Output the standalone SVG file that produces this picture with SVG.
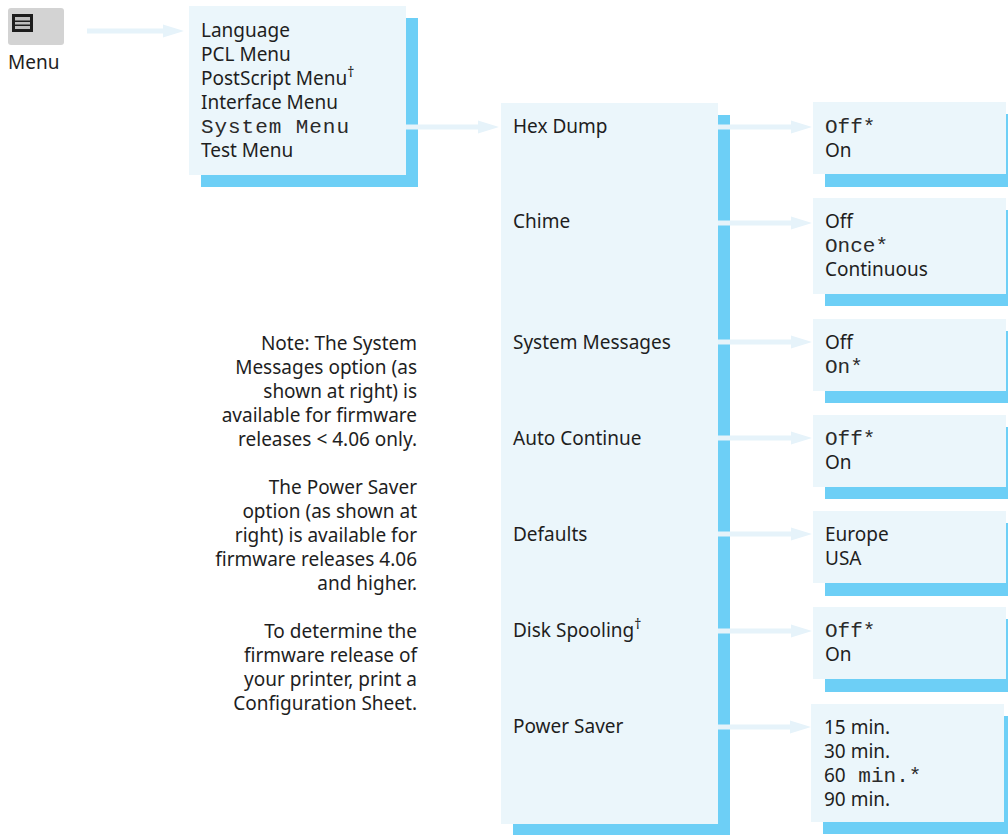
<svg xmlns="http://www.w3.org/2000/svg" width="1008" height="835" viewBox="0 0 1008 835">
<style>
  .bg{fill:#ebf6fb}
  .sh{fill:#6dcff6}
  .t{font-family:"Noto Sans","Liberation Sans",sans-serif;font-size:19px;fill:#1e1e1e}
  .m{font-family:"Liberation Mono","Courier New",monospace;font-size:21px;fill:#2a2a2a}
  .sup{font-size:14px}
  .note{font-family:"Noto Sans","Liberation Sans",sans-serif;font-size:19px;fill:#1e1e1e;text-anchor:end}
  .c{stroke:#e6f3fa;stroke-width:5;fill:none}
</style>
<defs>
  <marker id="ah" markerUnits="userSpaceOnUse" markerWidth="22" markerHeight="13" refX="1" refY="6.5" orient="auto" overflow="visible">
    <path d="M0,0 L21,6.5 L0,13 Z" fill="#e6f3fa"/>
  </marker>
</defs>
<rect width="1008" height="835" fill="#ffffff"/>

<g id="menu-button">
  <rect x="8" y="8" width="56" height="37" rx="3" fill="#d3d3d3"/>
  <rect x="12" y="14" width="21" height="18" fill="#1c1c1c"/>
  <rect x="15" y="17" width="15" height="12" fill="#bdbdbd"/>
  <rect x="15" y="20.5" width="15" height="1.5" fill="#1c1c1c"/>
  <rect x="15" y="24.5" width="15" height="1.5" fill="#1c1c1c"/>
  <text class="t" x="8" y="69">Menu</text>
</g>

<g id="main-menu">
  <rect class="sh" x="201" y="18" width="217" height="169"/>
  <rect class="bg" x="189" y="6" width="217" height="169"/>
  <text class="t" x="201" y="37">Language</text>
  <text class="t" x="201" y="61">PCL Menu</text>
  <text class="t" x="201" y="85">PostScript Menu<tspan class="sup" dy="-8">†</tspan></text>
  <text class="t" x="201" y="109">Interface Menu</text>
  <text class="m" x="201" y="133" textLength="148" lengthAdjust="spacing">System Menu</text>
  <text class="t" x="201" y="157">Test Menu</text>
</g>

<g id="system-menu">
  <rect class="sh" x="513" y="115" width="217" height="722"/>
  <rect class="bg" x="501" y="103" width="217" height="721"/>
  <text class="t" x="513" y="133">Hex Dump</text>
  <text class="t" x="513" y="228">Chime</text>
  <text class="t" x="513" y="349">System Messages</text>
  <text class="t" x="513" y="445">Auto Continue</text>
  <text class="t" x="513" y="541">Defaults</text>
  <text class="t" x="513" y="637">Disk Spooling<tspan class="sup" dy="-8">†</tspan></text>
  <text class="t" x="513" y="733">Power Saver</text>
</g>

<g id="hex-dump-options">
  <rect class="sh" x="825" y="114" width="185" height="73"/>
  <rect class="bg" x="813" y="102" width="193" height="72"/>
  <text class="m" x="825" y="133">Off*</text>
  <text class="t" x="825" y="157">On</text>
</g>

<g id="chime-options">
  <rect class="sh" x="825" y="210" width="185" height="96"/>
  <rect class="bg" x="813" y="198" width="193" height="96"/>
  <text class="t" x="825" y="228">Off</text>
  <text class="m" x="825" y="252">Once*</text>
  <text class="t" x="825" y="276">Continuous</text>
</g>

<g id="system-messages-options">
  <rect class="sh" x="825" y="331" width="185" height="72"/>
  <rect class="bg" x="813" y="319" width="193" height="72"/>
  <text class="t" x="825" y="349">Off</text>
  <text class="m" x="825" y="373">On*</text>
</g>

<g id="auto-continue-options">
  <rect class="sh" x="825" y="427" width="185" height="72"/>
  <rect class="bg" x="813" y="415" width="193" height="72"/>
  <text class="m" x="825" y="445">Off*</text>
  <text class="t" x="825" y="469">On</text>
</g>

<g id="defaults-options">
  <rect class="sh" x="825" y="523" width="185" height="73"/>
  <rect class="bg" x="813" y="511" width="193" height="72"/>
  <text class="t" x="825" y="541">Europe</text>
  <text class="t" x="825" y="565">USA</text>
</g>

<g id="disk-spooling-options">
  <rect class="sh" x="825" y="619" width="185" height="73"/>
  <rect class="bg" x="813" y="607" width="193" height="72"/>
  <text class="m" x="825" y="637">Off*</text>
  <text class="t" x="825" y="661">On</text>
</g>

<g id="power-saver-options">
  <rect class="sh" x="823" y="716" width="187" height="118"/>
  <rect class="bg" x="811" y="704" width="193" height="118"/>
  <text class="t" x="824" y="734">15 min.</text>
  <text class="t" x="824" y="758">30 min.</text>
  <text class="t" x="824" y="782">60<tspan class="m"> min.*</tspan></text>
  <text class="t" x="824" y="806">90 min.</text>
</g>

<g id="note">
  <text class="note" x="417" y="350">Note: The System</text>
  <text class="note" x="417" y="374">Messages option (as</text>
  <text class="note" x="417" y="398">shown at right) is</text>
  <text class="note" x="417" y="422">available for firmware</text>
  <text class="note" x="417" y="446">releases &lt; 4.06 only.</text>
  <text class="note" x="417" y="494">The Power Saver</text>
  <text class="note" x="417" y="518">option (as shown at</text>
  <text class="note" x="417" y="542">right) is available for</text>
  <text class="note" x="417" y="566">firmware releases 4.06</text>
  <text class="note" x="417" y="590">and higher.</text>
  <text class="note" x="417" y="638">To determine the</text>
  <text class="note" x="417" y="662">firmware release of</text>
  <text class="note" x="417" y="686">your printer, print a</text>
  <text class="note" x="417" y="710">Configuration Sheet.</text>
</g>

<g id="connectors">
  <line class="c" x1="87" y1="31" x2="164" y2="31" marker-end="url(#ah)"/>
  <line class="c" x1="406" y1="127" x2="479" y2="127" marker-end="url(#ah)"/>
  <line class="c" x1="718" y1="127" x2="792" y2="127" marker-end="url(#ah)"/>
  <line class="c" x1="718" y1="223" x2="792" y2="223" marker-end="url(#ah)"/>
  <line class="c" x1="718" y1="342" x2="792" y2="342" marker-end="url(#ah)"/>
  <line class="c" x1="718" y1="438" x2="792" y2="438" marker-end="url(#ah)"/>
  <line class="c" x1="718" y1="534" x2="792" y2="534" marker-end="url(#ah)"/>
  <line class="c" x1="718" y1="631" x2="792" y2="631" marker-end="url(#ah)"/>
  <line class="c" x1="718" y1="727" x2="791" y2="727" marker-end="url(#ah)"/>
</g>
</svg>
